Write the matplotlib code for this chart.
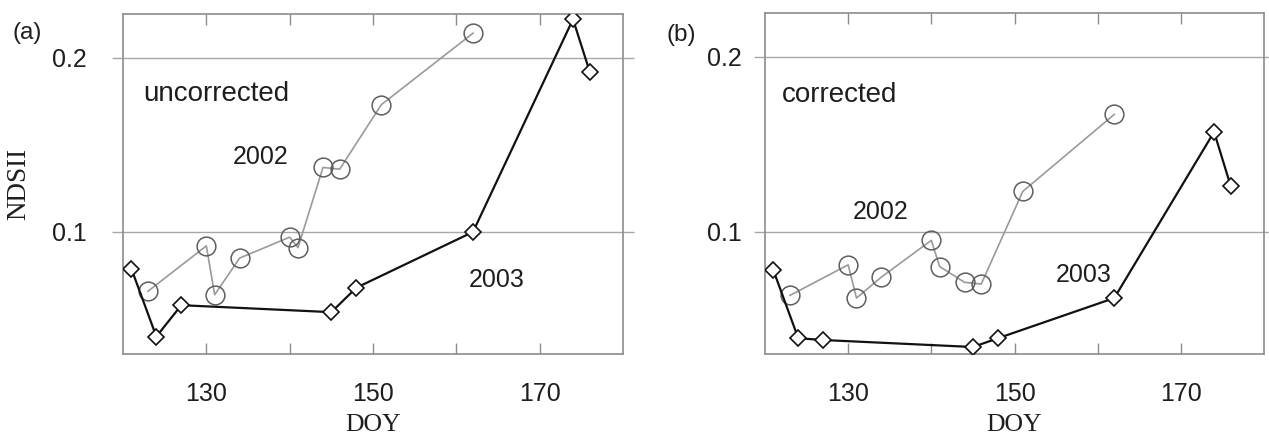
import matplotlib
matplotlib.use("Agg")
import matplotlib.pyplot as plt

# ---- data -------------------------------------------------------------------
doy_2002 = [123, 130, 131, 134, 140, 141, 144, 146, 151, 162]
unc_2002 = [0.066, 0.092, 0.064, 0.085, 0.097, 0.091, 0.137, 0.136, 0.173, 0.214]
cor_2002 = [0.0635, 0.081, 0.062, 0.074, 0.095, 0.080, 0.071, 0.070, 0.123, 0.167]

doy_2003 = [121, 124, 127, 145, 148, 162, 174, 176]
unc_2003 = [0.079, 0.040, 0.058, 0.054, 0.068, 0.100, 0.222, 0.192]
cor_2003 = [0.078, 0.039, 0.038, 0.034, 0.039, 0.062, 0.157, 0.126]

xticks = [130, 140, 150, 160, 170]
xticklabels = ["130", "", "150", "", "170"]
yticks = [0.1, 0.2]
yticklabels = ["0.1", "0.2"]

# ---- style -------------------------------------------------------------------
SANS = "Liberation Sans"
SERIF = "Liberation Serif"
GRID = "#a8a8a8"
SPINE = "#8c8c8c"
C02_LINE = "#9a9a9a"
C02_EDGE = "#5e5e5e"
C03 = "#111111"
TXT = "#1e1e1e"

W, H = 1269, 436
fig = plt.figure(figsize=(W / 100, H / 100), dpi=100)
fig.patch.set_facecolor("white")


def px_axes(left, top, right, bottom):
    return fig.add_axes([left / W, 1 - bottom / H, (right - left) / W, (bottom - top) / H])


def panel(ax, y02, y03, ypad):
    ax.set_xlim(120, 180)
    ax.set_ylim(0.03, 0.225)
    ax.plot(doy_2002, y02, color=C02_LINE, lw=1.2, marker="o", ms=13.5,
            mfc="none", mec=C02_EDGE, mew=1.1, zorder=3)
    ax.plot(doy_2003, y03, color=C03, lw=1.6, marker="D", ms=8.5,
            mfc="white", mec=C03, mew=1.2, zorder=4)

    ax.set_xticks(xticks, xticklabels, fontfamily=SANS, fontsize=18)
    ax.set_yticks(yticks, yticklabels, fontfamily=SANS, fontsize=18)
    ax.tick_params(axis="x", direction="in", top=True, length=8, width=1,
                   color=SPINE, pad=20, labelcolor=TXT)
    ax.tick_params(axis="y", direction="out", left=True, right=True, length=8,
                   width=1, color=GRID, pad=ypad, labelcolor=TXT)
    ax.grid(axis="y", color=GRID, lw=1)
    for s in ax.spines.values():
        s.set_color(SPINE)
        s.set_linewidth(1.2)
    ax.set_xlabel("DOY", fontfamily=SERIF, fontsize=18.5, color=TXT)
    ax.xaxis.set_label_coords(0.5, -0.175)


ax_a = px_axes(123, 14, 623, 354)
panel(ax_a, unc_2002, unc_2003, ypad=18)
ax_a.set_ylabel("NDSII", fontfamily=SERIF, fontsize=19.5, color=TXT)
ax_a.yaxis.set_label_coords(-0.184, 0.5)
ax_a.text(122.4, 0.175, "uncorrected", fontfamily=SANS, fontsize=20, color=TXT)
ax_a.text(133.2, 0.139, "2002", fontfamily=SANS, fontsize=18, color=TXT)
ax_a.text(161.5, 0.0686, "2003", fontfamily=SANS, fontsize=18, color=TXT)

ax_b = px_axes(765, 13, 1264, 354)
panel(ax_b, cor_2002, cor_2003, ypad=8.5)
ax_b.text(122.0, 0.174, "corrected", fontfamily=SANS, fontsize=20, color=TXT)
ax_b.text(130.5, 0.107, "2002", fontfamily=SANS, fontsize=18, color=TXT)
ax_b.text(155.0, 0.0712, "2003", fontfamily=SANS, fontsize=18, color=TXT)

fig.text(12 / W, 1 - 33 / H, "(a)", fontfamily=SANS, fontsize=17.5,
         ha="left", va="center", color=TXT)
fig.text(667 / W, 1 - 35 / H, "(b)", fontfamily=SANS, fontsize=17.5,
         ha="left", va="center", color=TXT)

fig.savefig("out.png", dpi=100, facecolor="white")
